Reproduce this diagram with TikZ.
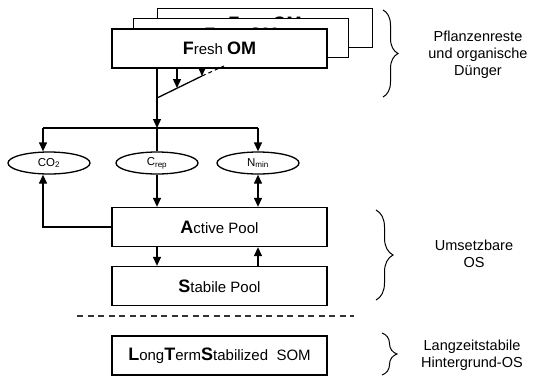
\documentclass[tikz,border=0pt]{standalone}
\usepackage{fontspec}
\setmainfont{Liberation Sans}
\usetikzlibrary{arrows.meta,shapes.geometric,decorations.pathreplacing}
\newcommand{\ini}[1]{{\fontsize{18}{18}\selectfont\bfseries #1}}
\begin{document}
\begin{tikzpicture}[x=1pt, y=-1pt, line width=1.3pt, >={Triangle[length=9pt,width=8pt]},
  pool/.style={rectangle,draw,fill=white,minimum width=215pt,minimum height=39pt,inner sep=0pt,font=\fontsize{15}{17}\selectfont},
  flux/.style={ellipse,draw,minimum width=82pt,minimum height=22pt,inner sep=0pt,font=\fontsize{11.5}{13}\selectfont},
  note/.style={align=center,font=\fontsize{14.5}{17}\selectfont},
  bracket/.style={decorate,decoration={brace,amplitude=#1},line width=1pt}]
\useasboundingbox (0,0) rectangle (533,378);
% stacked fresh OM boxes
\begin{scope}
\node[pool] (om3) at (265,28) {};
\node[font=\fontsize{15}{17}\selectfont] (om3text) at (265,23) {\ini{F}resh \ini{OM}};
\node[pool] (om2) at (241,38) {};
\node[font=\fontsize{15}{17}\selectfont] (om2text) at (241,34) {\ini{F}resh \ini{OM}};
\node[pool] (om1) at (219.5,48.5) {\ini{F}resh \ini{OM}};
\end{scope}
% fluxes
\node[flux] (co2) at (49,163) {CO\textsubscript{2}};
\node[flux] (crep) at (157,163) {C\textsubscript{rep}};
\node[flux] (nmin) at (258,163) {N\textsubscript{min}};
% pools
\node[pool] (active) at (219.5,227) {\ini{A}ctive Pool};
\node[pool] (stabile) at (219.5,286) {\ini{S}tabile Pool};
\node[pool] (lts) at (219.5,355.5) {\ini{L}ong\ini{T}erm\ini{S}tabilized\ \ SOM};
% junctions
\coordinate (split) at (157,128);
\coordinate (jl) at (43,128);
\coordinate (jr) at (258,128);
\coordinate (s0) at (157,98);
\coordinate (s3) at (177,88);
\coordinate (s1) at (202,76);
\coordinate (s2) at (224,66);
\begin{scope}
\draw[->] (om1.south -| split) -- (split);
\draw (s0) -- (s1);
\draw[dash pattern=on 4pt off 3pt,line width=1pt] (s1) -- (s2);
\draw[->] (om1.south -| s3) -- (s3);
\draw[->] (om1.south -| s1) -- (s1);
\draw (jl) -- (jr);
\draw[->] (jl) -- (co2.north -| jl);
\draw[->] (jr) -- (nmin.north);
\draw (split) -- (crep.north);
\draw[->] (crep.south) -- (crep.south |- active.north);
\draw[<->] (nmin.south) -- (nmin.south |- active.north);
\draw[->] (active.west) -| (co2.south -| jl);
\draw[->] (crep |- active.south) -- (crep |- stabile.north);
\draw[->] (nmin |- stabile.north) -- (nmin |- active.south);
\end{scope}
% separator
\coordinate (d0) at (77,316);
\coordinate (d1) at (354,316);
\draw[dash pattern=on 6pt off 4.5pt,line width=1.2pt,black!80] (d0) -- (d1);
% braces and notes
\coordinate (b1t) at (383,10);
\coordinate (b1b) at (383,97);
\coordinate (b2t) at (376,210);
\coordinate (b2b) at (376,300);
\coordinate (b3t) at (382,333);
\coordinate (b3b) at (382,375);
\draw[bracket=15pt] (b1t) -- (b1b);
\draw[bracket=17pt] (b2t) -- (b2b);
\draw[bracket=15pt] (b3t) -- (b3b);
\node[note] (fresh note) at (478,55) {Pflanzenreste\\und organische\\Dünger};
\node[note] (active note) at (474,253.5) {Umsetzbare\\OS};
\node[note] (lts note) at (472,355) {Langzeitstabile\\Hintergrund-OS};
\end{tikzpicture}
\end{document}
